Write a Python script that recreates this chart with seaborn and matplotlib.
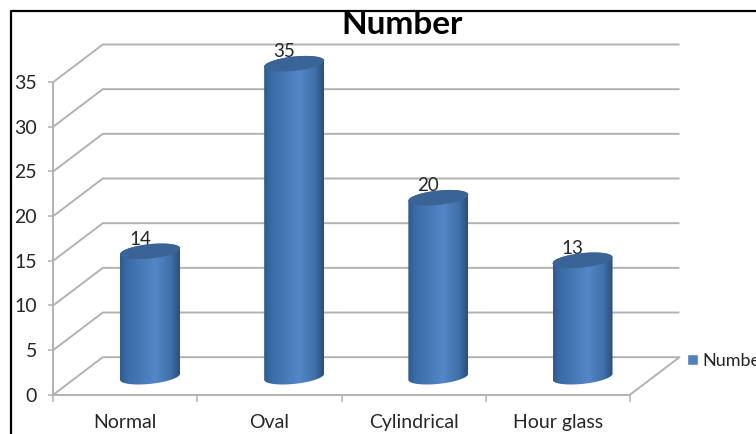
import numpy as np
import pandas as pd
import matplotlib
matplotlib.use("Agg")
import matplotlib.pyplot as plt
from matplotlib.colors import LinearSegmentedColormap
from matplotlib.lines import Line2D
from matplotlib.patches import Polygon
import seaborn as sns

categories = ["Normal", "Oval", "Cylindrical", "Hour glass"]
values = [14, 35, 20, 13]
series_name = "Number"
y_ticks = [0, 5, 10, 15, 20, 25, 30, 35]

W, H = 756, 434
sns.set_theme(style="white")
plt.rcParams["font.family"] = ["Lato", "DejaVu Sans"]
GRAY = "#b2b2b2"
TEXT = "#262626"

fig = plt.figure(figsize=(W / 100, H / 100), dpi=100, facecolor="white")
L, R, B, T = 53.3, 630.0, 394.7, 82.0
ax = fig.add_axes([L / W, 1 - B / H, (R - L) / W, (B - T) / H])
ax.patch.set_alpha(0)

df = pd.DataFrame({"category": categories, "value": values})
px_x = (R - L) / 4
px_y = (B - T) / 35
sns.barplot(data=df, x="category", y="value", color="#4f81bd", width=60 / px_x,
            saturation=1, ax=ax, label=series_name)
ax.set_xlim(-0.5, 3.5)
ax.set_ylim(0, 35)
ax.set_xlabel("")
ax.set_ylabel("")
ax.set_yticks(y_ticks)
ax.tick_params(axis="y", length=3.6, width=1.1, color=GRAY, left=True, pad=8,
               labelsize=14, labelcolor=TEXT)
ax.tick_params(axis="x", length=5, width=1.1, color=GRAY, bottom=True, pad=9,
               labelsize=14, labelcolor=TEXT)
ax.set_xticks(np.arange(-0.5, 4.5), minor=True)
ax.tick_params(axis="x", which="minor", length=5, width=1.1, color=GRAY, bottom=True)
ax.tick_params(axis="x", which="major", bottom=False)
for s in ["top", "right"]:
    ax.spines[s].set_visible(False)
for s in ["left", "bottom"]:
    ax.spines[s].set_color(GRAY)
    ax.spines[s].set_linewidth(1.4)

# Oblique "3-D" back wall and floor, in data units
dx = 49.5 / px_x
dy = 37.5 / px_y
for v in y_ticks:
    ax.plot([-0.5, -0.5 + dx, 3.5 + dx], [v + 0, v + dy, v + dy], color=GRAY, lw=1.4,
            clip_on=False, zorder=1, solid_capstyle="butt")
ax.plot([3.5, 3.5 + dx], [0, dy], color=GRAY, lw=1.4, clip_on=False, zorder=1)

# Legend first, while the seaborn bars are still visible
handles, labels = ax.get_legend_handles_labels()
leg = ax.legend(handles, labels, loc="center left", frameon=False, fontsize=13,
                handlelength=0.62, handleheight=0.62, handletextpad=0.25,
                borderpad=0, borderaxespad=0,
                bbox_to_anchor=(687 / W, 1 - 361 / H), bbox_transform=fig.transFigure)
for txt in leg.get_texts():
    txt.set_color(TEXT)

# Cylinders, built from the geometry of the seaborn bars
cmap = LinearSegmentedColormap.from_list(
    "cyl", [(0, "#2f5b8e"), (0.12, "#3a6ba6"), (0.58, "#5487c8"),
            (0.85, "#3f70ab"), (1, "#2b4d7a")])
grad = np.linspace(0, 1, 256).reshape(1, -1)
depth_cx = 24.6 / px_x
base = 18.0 / px_y
a = 30.0 / px_x
b = 7.2 / px_y
tilt = 3.0 / px_y
t = np.linspace(0, 2 * np.pi, 121)
for bar, val in zip(list(ax.patches), values):
    bar.set_visible(False)
    cx = bar.get_x() + bar.get_width() / 2 + depth_cx
    h = bar.get_height()
    top = h + base + 0.03
    ex = cx + a * np.cos(t)
    top_y = top + b * np.sin(t) + tilt * np.cos(t)
    low_t = np.linspace(np.pi, 2 * np.pi, 61)
    up_t = np.linspace(0, np.pi, 61)
    outline = np.column_stack([
        np.r_[cx + a * np.cos(low_t), cx + a * np.cos(up_t)],
        np.r_[base + b * np.sin(low_t) + tilt * np.cos(low_t),
              top + b * np.sin(up_t) + tilt * np.cos(up_t)],
    ])
    clip = Polygon(outline, closed=True, fc="none", ec="none", transform=ax.transData,
                   clip_on=False, zorder=3)
    ax.add_patch(clip)
    im = ax.imshow(grad, cmap=cmap, aspect="auto", zorder=3, interpolation="bilinear",
                   extent=[cx - a, cx + a, base - 2 * b, top + 2 * b])
    im.set_clip_path(clip)
    im.set_clip_box(fig.bbox)
    ax.fill(ex, top_y, color="#3a6496", lw=0, clip_on=False, zorder=4)
    ax.annotate(str(val), (cx, top), xytext=(-10, 12), textcoords="offset pixels",
                ha="center", va="center", fontsize=13.5, color=TEXT,
                annotation_clip=False, zorder=2)
ax.set_xlim(-0.5, 3.5)
ax.set_ylim(0, 35)

ax.set_title("")
fig.text(402 / W, 1 - 25 / H, series_name, ha="center", va="center", fontsize=24,
         fontweight="bold", color="black")

# Legend swatch stays visible although the source bars are hidden
for hnd in leg.get_patches():
    hnd.set_visible(True)

# Frame of the pasted picture: top and left edges only
fig.add_artist(Line2D([10.5 / W, 10.5 / W, 1], [0, 1 - 11 / H, 1 - 11 / H], color="black", lw=1.6))

fig.savefig("out.png", dpi=100)
